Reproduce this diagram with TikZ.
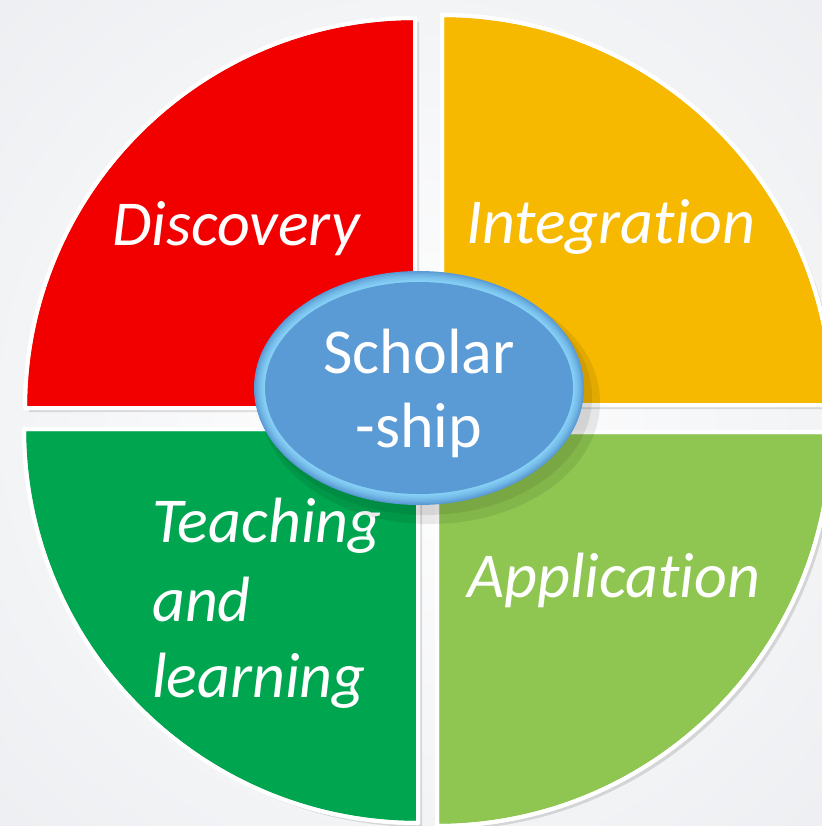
\documentclass[tikz,border=0pt]{standalone}
\usepackage{fontspec}
\setmainfont{Carlito}[Ligatures={NoCommon,NoContextual}]
\usetikzlibrary{calc}
\definecolor{cred}{HTML}{F20000}
\definecolor{corange}{HTML}{F6B900}
\definecolor{cgreen}{HTML}{00A64F}
\definecolor{clgreen}{HTML}{8FC651}
\definecolor{cblue}{HTML}{5B9BD5}
\definecolor{cglow}{HTML}{86D0F6}
\definecolor{bgout}{HTML}{ECEEF1}
\tikzset{
  quad/.style={draw=white, line width=4pt, line join=round},
  quadshadow/.style={fill=black, opacity=0.12},
  lbl/.style={text=white, inner sep=0pt, font=\fontsize{64}{72}\selectfont\itshape},
  ctr/.style={text=white, inner sep=0pt, font=\fontsize{64}{74}\selectfont}
}
\begin{document}
\begin{tikzpicture}[x=1pt,y=-1pt]
\useasboundingbox (0,0) rectangle (821,826);
% background
\shade[inner color=white, outer color=bgout] (-200,-200) rectangle (1021,1026);
% shadows
\fill[quadshadow] ($(415,408)+(4,4)$) -- ++(-390,0) arc[start angle=180,end angle=270,radius=390] -- cycle;
\fill[quadshadow] ($(442,405)+(4,4)$) -- ++(0,-390) arc[start angle=270,end angle=360,radius=390] -- cycle;
\fill[quadshadow] ($(418,429)+(4,4)$) -- ++(-394,0) arc[start angle=180,end angle=90,radius=394] -- cycle;
\fill[quadshadow] ($(437,432)+(4,4)$) -- ++(394,0) arc[start angle=0,end angle=90,radius=394] -- cycle;
% quadrants
\fill[quad, fill=cred] (415,408) -- ++(-390,0) arc[start angle=180,end angle=270,radius=390] -- cycle;
\fill[quad, fill=corange] (442,405) -- ++(0,-390) arc[start angle=270,end angle=360,radius=390] -- cycle;
\fill[quad, fill=cgreen] (418,429) -- ++(-394,0) arc[start angle=180,end angle=90,radius=394] -- cycle;
\fill[quad, fill=clgreen] (437,432) -- ++(394,0) arc[start angle=0,end angle=90,radius=394] -- cycle;
\draw[quad] (415,408) -- ++(-390,0) arc[start angle=180,end angle=270,radius=390] -- cycle;
\draw[quad] (442,405) -- ++(0,-390) arc[start angle=270,end angle=360,radius=390] -- cycle;
\draw[quad] (418,429) -- ++(-394,0) arc[start angle=180,end angle=90,radius=394] -- cycle;
\draw[quad] (437,432) -- ++(394,0) arc[start angle=0,end angle=90,radius=394] -- cycle;
% labels
\node[lbl, anchor=base west] (disc) at (112,245) {Discovery};
\node[lbl, anchor=base west] (integ) at (466,243) {Integration};
\node[lbl, anchor=base west] (teach1) at (152,542) {Teaching};
\node[lbl, anchor=base west] (teach2) at (152,621) {and};
\node[lbl, anchor=base west] (teach3) at (152,697) {learning};
\node[lbl, anchor=base west] (appl) at (467,597) {Application};
% centre ellipse shadow
\fill[black, opacity=0.08] (430,402) ellipse[x radius=170, y radius=122];
\fill[black, opacity=0.08] (426,397) ellipse[x radius=166, y radius=118];
% centre ellipse with glow edge
\foreach \i/\c in {0/100,1/80,2/62,3/46,4/32,5/20,6/10,7/0}{
  \fill[cblue!\c!cglow] (419,388) ellipse[x radius={165-1.4*\i}, y radius={117-1.4*\i}];
}
\fill[cblue] (419,388) ellipse[x radius=154, y radius=106];
\node[ctr, anchor=base] (sch1) at (419,373) {Scholar};
\node[ctr, anchor=base] (sch2) at (419,447) {-ship};
\end{tikzpicture}
\end{document}
